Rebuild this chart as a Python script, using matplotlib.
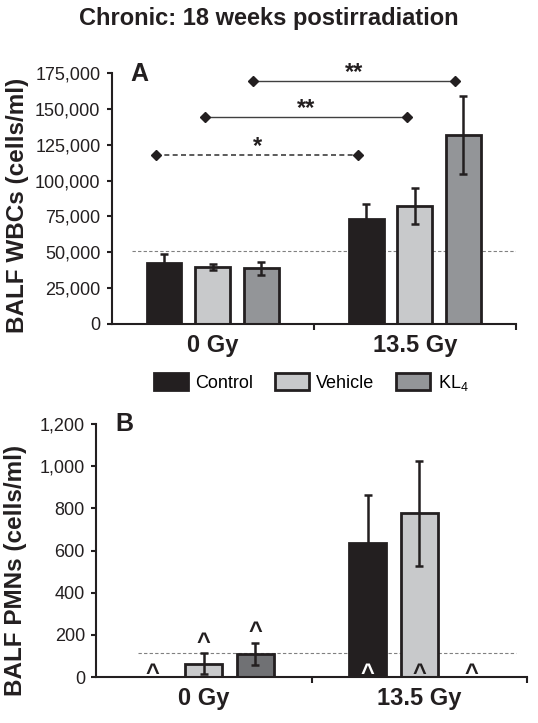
import matplotlib
matplotlib.use('Agg')
import matplotlib.pyplot as plt
import numpy as np
from matplotlib.patches import Patch
from matplotlib.ticker import FuncFormatter

plt.rcParams['font.family'] = ['Liberation Sans', 'DejaVu Sans']
plt.rcParams['mathtext.default'] = 'regular'

# data
doses = ['0 Gy', '13.5 Gy']
groups = ['Control', 'Vehicle', 'KL$_4$']

wbc_mean = {'Control': [42300, 73200], 'Vehicle': [39500, 82500], 'KL4': [38800, 131800]}
wbc_err = {'Control': [6300, 10500], 'Vehicle': [2000, 12500], 'KL4': [4500, 27000]}
wbc_ref = 51000

pmn_mean = {'Control': [0, 634], 'Vehicle': [64, 776], 'KL4': [111, 0]}
pmn_err = {'Control': [0, 230], 'Vehicle': [50, 250], 'KL4': [52, 0]}
pmn_ref = 116

# significance brackets: (dose, group) -> (dose, group), label, dashed
brackets = [((0, 0), (1, 0), '*', True),
            ((0, 1), (1, 1), '**', False),
            ((0, 2), (1, 2), '**', False)]
bracket_y = [117800, 144100, 169400]

# '^' markers in panel B: placement ('base' or 'top') and colour per (dose, group)
caret_place = {'Control': ['base', 'base'], 'Vehicle': ['top', 'base'], 'KL4': ['top', 'base']}
caret_color = {'Control': ['#231f20', 'white'], 'Vehicle': ['#231f20', '#231f20'], 'KL4': ['#231f20', '#231f20']}

keys = ['Control', 'Vehicle', 'KL4']
colors_a = {'Control': '#231f20', 'Vehicle': '#c8c9cb', 'KL4': '#939598'}
colors_b = {'Control': '#231f20', 'Vehicle': '#c8c9cb', 'KL4': '#707174'}
edge = '#231f20'

W, H = 538, 723
fig = plt.figure(figsize=(W / 100, H / 100), dpi=100)
axA = fig.add_axes([111.5 / W, 1 - 324 / H, 404.5 / W, 251 / H])
axB = fig.add_axes([96 / W, 1 - 677 / H, 431 / W, 253 / H])

pitch = 0.24
width = 0.172
x = np.arange(len(doses))


def pos(d, g):
    return x[d] + (g - 1) * pitch


def style(ax, ymax, step):
    ax.set_xlim(-0.5, 1.5)
    ax.set_ylim(0, ymax)
    for s in ['top', 'right']:
        ax.spines[s].set_visible(False)
    for s in ['left', 'bottom']:
        ax.spines[s].set_linewidth(1.5)
        ax.spines[s].set_color(edge)
    ax.set_yticks(np.arange(0, ymax + 1, step))
    ax.yaxis.set_major_formatter(FuncFormatter(lambda v, p: '{:,.0f}'.format(v)))
    ax.tick_params(axis='y', labelsize=13, length=3.5, width=1.5, pad=4.5, colors=edge)
    ax.set_xticks(x)
    ax.set_xticklabels(doses, fontsize=17, fontweight='bold')
    ax.tick_params(axis='x', length=0, pad=7, colors=edge)
    ax.set_xticks([0.5, 1.5], minor=True)
    ax.tick_params(axis='x', which='minor', length=4, width=1.5, color=edge)


# panel A
for g, k in enumerate(keys):
    xs = [pos(d, g) for d in range(2)]
    axA.bar(xs, wbc_mean[k], width, color=colors_a[k], edgecolor=edge, linewidth=2, zorder=2)
    axA.errorbar(xs, wbc_mean[k], yerr=wbc_err[k], fmt='none', ecolor=edge,
                 elinewidth=1.8, capsize=2.8, capthick=1.8, zorder=3)
axA.plot([-0.4, 1.5], [wbc_ref, wbc_ref], ls=(0, (3, 2)), color='#808080', lw=0.8, zorder=1)
for (a, b, lab, dashed), yb in zip(brackets, bracket_y):
    x0, x1 = pos(*a) - 0.04, pos(*b) - 0.04
    axA.plot([x0, x1], [yb, yb], color='#404040', lw=1.0 if not dashed else 1.2,
             ls=(0, (3, 2)) if dashed else '-', zorder=4)
    axA.plot([x0, x1], [yb, yb], ls='none', marker='D', ms=5, color='#231f20', zorder=5)
    axA.annotate(lab, ((x0 + x1) / 2, yb), xytext=(0, 1.5), textcoords='offset points',
                 ha='center', va='baseline', fontsize=17, fontweight='bold', color=edge)
style(axA, 175000, 25000)
axA.text(0.07, 0.995, 'A', transform=axA.transAxes, fontsize=18, fontweight='bold', ha='center', va='center', color=edge)

# panel B
for g, k in enumerate(keys):
    xs = [pos(d, g) for d in range(2)]
    axB.bar(xs, pmn_mean[k], width, color=colors_b[k], edgecolor=edge, linewidth=2, zorder=2)
    axB.errorbar(xs, pmn_mean[k], yerr=pmn_err[k], fmt='none', ecolor=edge,
                 elinewidth=1.8, capsize=2.8, capthick=1.8, zorder=3)
    for d in range(2):
        if caret_place[k][d] == 'top':
            ytxt = pmn_mean[k][d] + pmn_err[k][d]
            off = 3
        else:
            ytxt = 0
            off = -1.8
        axB.annotate('^', (xs[d], ytxt), xytext=(0, off), textcoords='offset points',
                     ha='center', va='baseline', fontsize=17, fontweight='bold',
                     color=caret_color[k][d], zorder=6)
axB.plot([-0.305, 1.45], [pmn_ref, pmn_ref], ls=(0, (3, 2)), color='#808080', lw=0.8, zorder=1)
style(axB, 1200, 200)
axB.text(0.065, 1.0, 'B', transform=axB.transAxes, fontsize=18, fontweight='bold', ha='center', va='center', color=edge)

# labels
fig.text(0.5, 1 - 19 / H, 'Chronic: 18 weeks postirradiation', ha='center', va='center',
         fontsize=17, fontweight='bold', color=edge)
fig.text(18 / W, 1 - 205 / H, 'BALF WBCs (cells/ml)', rotation=90, ha='center', va='center',
         fontsize=17.5, fontweight='bold', color=edge)
fig.text(16 / W, 1 - 570 / H, 'BALF PMNs (cells/ml)', rotation=90, ha='center', va='center',
         fontsize=17.5, fontweight='bold', color=edge)

handles = [Patch(facecolor=colors_a[k], edgecolor=edge, linewidth=2) for k in keys]
fig.legend(handles, groups, loc='center', bbox_to_anchor=(311 / W, 1 - 383 / H), ncol=3,
           frameon=False, fontsize=13, handlelength=1.9, handleheight=1.05,
           handletextpad=0.4, columnspacing=1.2)

fig.savefig('out.png', dpi=100)
